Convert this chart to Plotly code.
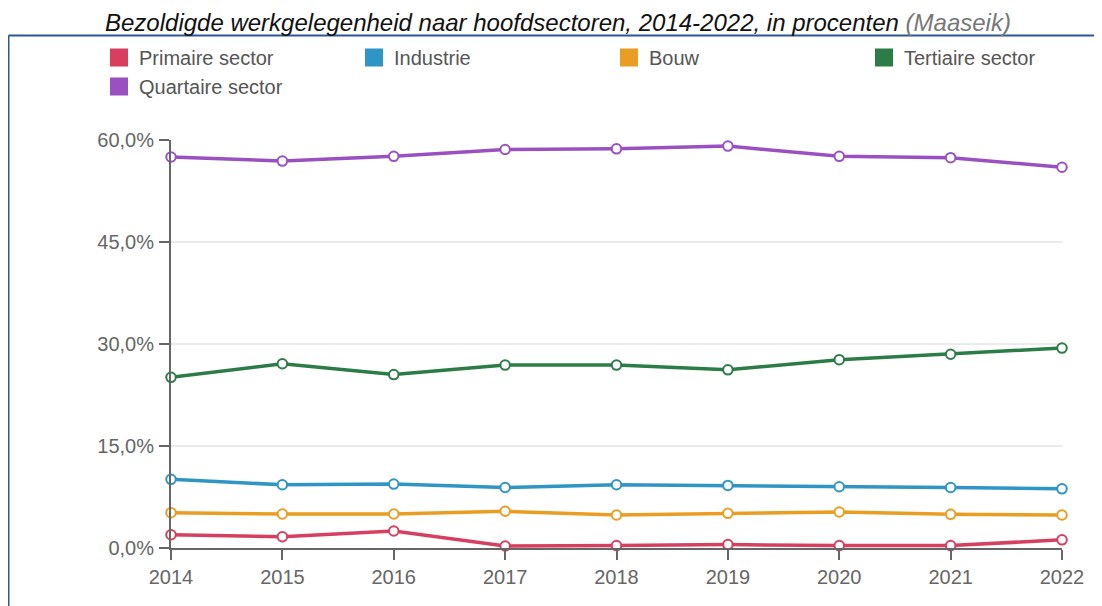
import plotly.graph_objects as go

years = [2014, 2015, 2016, 2017, 2018, 2019, 2020, 2021, 2022]
series_names = ["Primaire sector", "Industrie", "Bouw", "Tertiaire sector", "Quartaire sector"]
primaire = [1.95, 1.65, 2.5, 0.3, 0.35, 0.5, 0.35, 0.35, 1.2]
industrie = [10.1, 9.3, 9.4, 8.9, 9.3, 9.2, 9.0, 8.9, 8.7]
bouw = [5.2, 5.0, 5.0, 5.4, 4.85, 5.1, 5.3, 4.95, 4.85]
tertiaire = [25.1, 27.1, 25.5, 26.9, 26.9, 26.2, 27.7, 28.5, 29.4]
quartaire = [57.5, 56.9, 57.6, 58.6, 58.7, 59.1, 57.6, 57.4, 56.0]
colors = ["#d63f5f", "#2f95c4", "#e99d22", "#2c7c47", "#9a50c0"]
y_ticks = [0, 15, 30, 45, 60]

FONT = "Liberation Sans, Arial, sans-serif"
OFF = 8  # page body margin offset
W, H = 1102 - OFF, 606 - OFF
ML, MR, MT, MB = 171 - OFF, W - (1062 - OFF), 140 - OFF, H - (548 - OFF)
pw, ph = W - ML - MR, H - MT - MB

fig = go.Figure()
data = [primaire, industrie, bouw, tertiaire, quartaire]
for name, vals, col in zip(series_names, data, colors):
    fig.add_trace(go.Scatter(
        x=years, y=vals, name=name, mode="lines+markers",
        line=dict(color=col, width=3.5),
        marker=dict(symbol="circle", size=9.5, color="white", line=dict(color=col, width=2)),
        cliponaxis=False, showlegend=False,
    ))
# legend entries as squares
legend_widths = [210, 210, 210, 150, 210]
for name, col, lw in zip(series_names, colors, legend_widths):
    fig.add_trace(go.Scatter(
        x=[None], y=[None], name=name, mode="markers",
        marker=dict(symbol="square", size=16, color=col, line=dict(color=col, width=2)),
        showlegend=True, legendwidth=lw,
    ))

def px_x(p):
    return (p - OFF - ML) / pw

def px_y(p):
    return (H - MB - (p - OFF)) / ph

fig.update_layout(
    width=W, height=H,
    margin=dict(l=ML, r=MR, t=MT, b=MB),
    paper_bgcolor="white", plot_bgcolor="white",
    font=dict(family=FONT, size=20, color="#666666"),
    showlegend=True,
    legend=dict(
        orientation="h", xref="paper", yref="paper",
        x=px_x(99), y=px_y(38), xanchor="left", yanchor="top",
        entrywidthmode="pixels",
        font=dict(family=FONT, size=20, color="#555555"),
        bgcolor="rgba(0,0,0,0)", traceorder="normal",
    ),
    xaxis=dict(
        range=[2014, 2022], tickvals=years, ticktext=[str(y) for y in years],
        showgrid=False, zeroline=False,
        showline=True, linecolor="#666666", linewidth=2,
        ticks="outside", ticklen=10, tickwidth=2, tickcolor="#666666",
        tickfont=dict(family=FONT, size=20, color="#666666"),
        ticklabelstandoff=0,
        fixedrange=True,
    ),
    yaxis=dict(
        range=[0, 60], tickvals=y_ticks,
        ticktext=[f"{v:.1f}".replace(".", ",") + "%" for v in y_ticks],
        showgrid=True, gridcolor="#ebebeb", gridwidth=2, zeroline=False,
        showline=True, linecolor="#666666", linewidth=2,
        ticks="outside", ticklen=10, tickwidth=2, tickcolor="#666666",
        tickfont=dict(family=FONT, size=20, color="#666666"),
        ticklabelstandoff=1,
        fixedrange=True,
    ),
    shapes=[
        dict(type="line", xref="paper", yref="paper",
             x0=px_x(8.5), x1=px_x(1120), y0=px_y(35.5), y1=px_y(35.5),
             line=dict(color="#2b5797", width=2)),
        dict(type="line", xref="paper", yref="paper",
             x0=px_x(8.5), x1=px_x(8.5), y0=px_y(35.5), y1=px_y(640),
             line=dict(color="#2b5797", width=2)),
    ],
    annotations=[
        dict(xref="paper", yref="paper", x=px_x(558), y=px_y(8),
             xanchor="center", yanchor="top", showarrow=False, borderpad=0,
             text="<i>Bezoldigde werkgelegenheid naar hoofdsectoren, 2014-2022, in procenten</i> "
                  "<i><span style='color:#777777'>(Maaseik)</span></i>",
             font=dict(family=FONT, size=24, color="#111111")),
    ],
)

fig.write_html("out.html")
